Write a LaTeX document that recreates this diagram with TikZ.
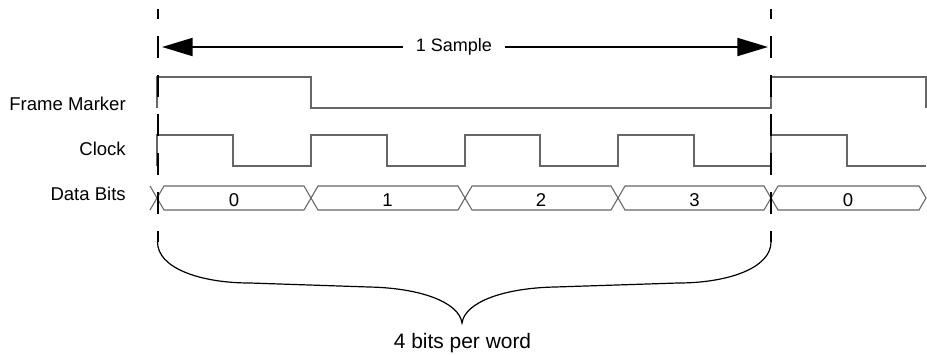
\documentclass[tikz,border=0pt]{standalone}
\usepackage{fontspec}
\setmainfont{Liberation Sans}
\usepackage{tikz}
\usetikzlibrary{arrows.meta}

\begin{document}
\begin{tikzpicture}[
    x=0.75pt, y=-0.75pt,
    siglabel/.style={anchor=base east, inner sep=0pt, font=\fontsize{13.9}{16}\selectfont},
    bitlabel/.style={anchor=base, inner sep=0pt, font=\fontsize{13.9}{16}\selectfont},
    samplenode/.style={anchor=base, inner xsep=9.5pt, inner ysep=0pt, font=\fontsize{13.5}{16}\selectfont},
    wordnode/.style={anchor=base, inner sep=0pt, font=\fontsize{15.7}{18}\selectfont},
    wave/.style={draw=black!60, line width=0.8pt},
    markerline/.style={draw=black, line width=1.5pt, dash pattern=on 16.5pt off 12.75pt, dash phase=9pt},
    samplearrow/.style={draw=black, line width=1.5pt, -{Triangle[length=23pt, width=13.5pt]}},
    bracepath/.style={draw=black, line width=0.9pt}
  ]
  \useasboundingbox (0,0) rectangle (927,354);

  % Signal names
  \node[siglabel] (fmlabel) at (126,110) {Frame Marker};
  \node[siglabel] (clklabel) at (126,155) {Clock};
  \node[siglabel] (datalabel) at (126,200) {Data Bits};

  % Frame marker and clock
  \draw[wave] (157,108) -- (157,77) -- (311,77) -- (311,108) -- (771,108) -- (771,77) -- (926,77) -- (926,108);
  \draw[wave] (157,166) -- (157,135) -- (233,135) -- (233,166) -- (311,166) -- (311,135) -- (387,135) -- (387,166)
    -- (465,166) -- (465,135) -- (540,135) -- (540,166) -- (618,166) -- (618,135) -- (694,135) -- (694,166)
    -- (771,166) -- (771,135) -- (847,135) -- (847,166) -- (926,166);

  % Data bit cells
  \draw[wave] (150,186) -- (157,198) -- (150,210);
  \draw[wave] (157,198) -- (164,186) -- (304,186) -- (311,198) -- (304,210) -- (164,210) -- cycle;
  \draw[wave] (311,198) -- (318,186) -- (458,186) -- (465,198) -- (458,210) -- (318,210) -- cycle;
  \draw[wave] (465,198) -- (472,186) -- (611,186) -- (618,198) -- (611,210) -- (472,210) -- cycle;
  \draw[wave] (618,198) -- (625,186) -- (764,186) -- (771,198) -- (764,210) -- (625,210) -- cycle;
  \draw[wave] (771,198) -- (778,186) -- (919,186) -- (926,198) -- (919,210) -- (778,210) -- cycle;

  \node[bitlabel] (bit0) at (234,206) {0};
  \node[bitlabel] (bit1) at (387.5,206) {1};
  \node[bitlabel] (bit2) at (541,206) {2};
  \node[bitlabel] (bit3) at (694.5,206) {3};
  \node[bitlabel] (bit4) at (848,206) {0};

  % Sample boundaries
  \draw[markerline] (157.5,9) -- (157.5,242);
  \draw[markerline] (771,9) -- (771,242);

  % Sample span
  \coordinate (sl) at (162,47);
  \coordinate (sr) at (768,47);
  \node[samplenode] (smp) at (454,51.5) {1 Sample};
  \draw[samplearrow] (smp.west |- sl) -- (sl);
  \draw[samplearrow] (smp.east |- sr) -- (sr);

  % Word brace
  \draw[bracepath] (157.5,242) .. controls (157.5,268) and (200,283) .. (250,283) -- (369,287)
    .. controls (420,288) and (459,302) .. (462,323)
    .. controls (465,302) and (504,288) .. (555,287) -- (678,283)
    .. controls (728,283) and (771,268) .. (771,242);
  \node[wordnode] (word) at (462.5,348.5) {4 bits per word};

\end{tikzpicture}
\end{document}
